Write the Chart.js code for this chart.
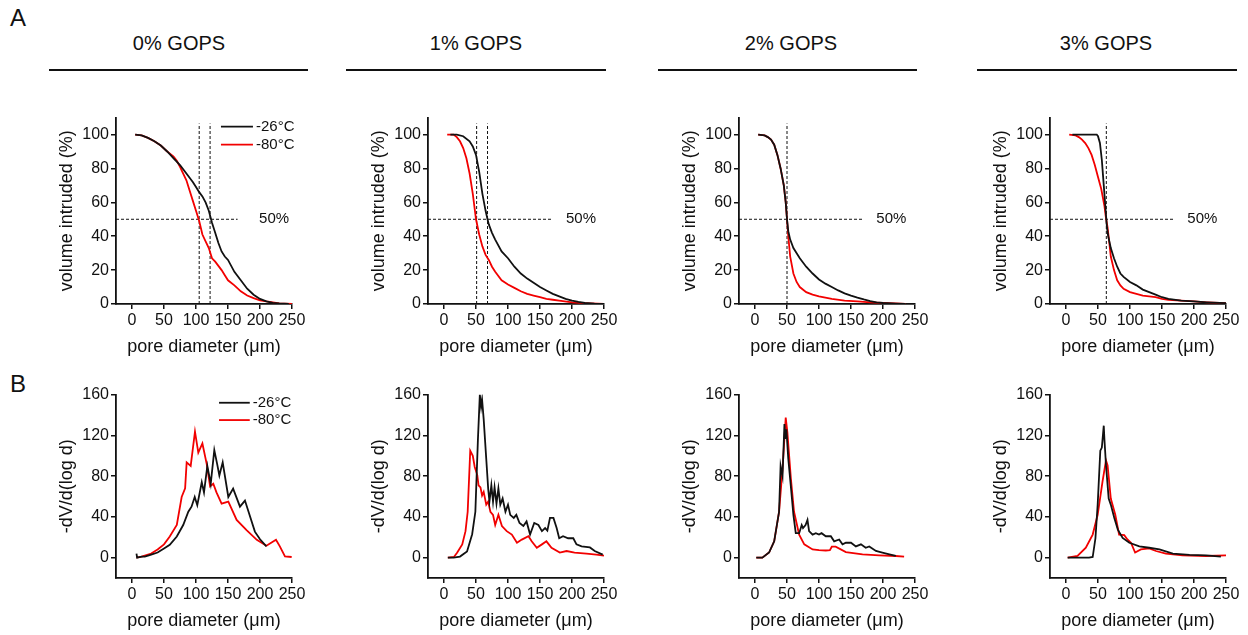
<!DOCTYPE html>
<html>
<head>
<meta charset="utf-8">
<script src="https://cdn.jsdelivr.net/npm/chart.js@4.4.0/dist/chart.umd.min.js"></script>
<style>
  body { margin: 0; background: #fff; width: 1248px; height: 635px; position: relative; overflow: hidden;
         font-family: "Liberation Sans", Arial, sans-serif; color: #111; }
  canvas { position: absolute; }
  .hdr { position: absolute; font-size: 20px; transform: translateX(-50%); white-space: nowrap; }
  .rule { position: absolute; height: 2px; background: #111; }
  .lett { position: absolute; font-size: 24px; }
</style>
</head>
<body>
<div class="lett" style="left:10px;top:4px">A</div>
<div class="lett" style="left:10px;top:370px">B</div>

<div class="hdr" style="left:179px;top:32px">0% GOPS</div>
<div class="hdr" style="left:476px;top:32px">1% GOPS</div>
<div class="hdr" style="left:791px;top:32px">2% GOPS</div>
<div class="hdr" style="left:1106px;top:32px">3% GOPS</div>
<div class="rule" style="left:49px;top:69px;width:259px"></div>
<div class="rule" style="left:346px;top:69px;width:260px"></div>
<div class="rule" style="left:658px;top:69px;width:259px"></div>
<div class="rule" style="left:977px;top:69px;width:260px"></div>

<canvas id="a0" width="256" height="252" style="left:56px;top:106px"></canvas>
<canvas id="a1" width="256" height="252" style="left:368px;top:106px"></canvas>
<canvas id="a2" width="256" height="252" style="left:679px;top:106px"></canvas>
<canvas id="a3" width="256" height="252" style="left:990px;top:106px"></canvas>
<canvas id="b0" width="256" height="249" style="left:56px;top:383px"></canvas>
<canvas id="b1" width="256" height="249" style="left:368px;top:383px"></canvas>
<canvas id="b2" width="256" height="249" style="left:679px;top:383px"></canvas>
<canvas id="b3" width="256" height="249" style="left:990px;top:383px"></canvas>

<script>
// tick labels
const xTicks = [0, 50, 100, 150, 200, 250];
const yTicksA = [0, 20, 40, 60, 80, 100];
const yTicksB = [0, 40, 80, 120, 160];
const seriesNames = ["-26°C", "-80°C"];

// A — volume intruded (%), 0% GOPS
const a0_x26 = [5,15,25,35,45,55,65,75,85,95,100,105,110,115,120,125,130,135,140,145,150,160,170,180,190,200,210,220,230,245];
const a0_y26 = [100,99.5,98,96,93.5,90,86,82,77,72,69,66,63.5,60,55,48,42,36,31,28,26,19,14,9,5.5,3,1.5,0.7,0.3,0];
const a0_x80 = [5,15,25,35,45,55,65,70,75,80,85,90,95,100,105,110,115,120,125,130,140,145,150,160,170,180,190,200,210,220,230,250];
const a0_y80 = [100,99.5,98,96,93.5,90,87,84.5,81,77,73,67,61,55,49,41,37,33,27,25,20,17,14,11,7.5,5,3.5,2.2,1.5,1,0.3,0];

// A — 1% GOPS
const a1_x26 = [10,20,30,40,45,50,55,60,65,68,70,75,80,90,100,110,120,130,140,150,160,170,180,190,200,210,220,235,250];
const a1_y26 = [100,100,99,96,93,88,78,65,55,50,47,42,38,31,27,22,18,15,12.5,10,8,6,4.5,3,2,1.2,0.6,0.2,0];
const a1_x80 = [5,15,20,25,30,35,40,45,50,55,60,65,70,75,80,90,100,110,120,130,140,150,160,170,180,200,220,250];
const a1_y80 = [100,100,98.5,96,92,86,77,65,50,41,34,29,26,22,19,14,11.5,9.5,7.5,6,5,4,3,2.5,2,1,0.5,0];

// A — 2% GOPS
const a2_x26 = [5,15,20,25,30,35,40,45,48,50,52,55,60,70,80,90,100,110,120,130,140,150,160,170,180,190,200,220,235];
const a2_y26 = [100,99.5,98.5,97,94,88,80,70,60,50,43,38,33,27,22,18,14.5,12,10,8,6.3,5,3.8,2.7,1.7,1,0.6,0.2,0];
const a2_x80 = [5,15,20,25,30,35,40,45,48,50,52,55,60,65,70,80,90,100,120,140,160,180,200,220,235];
const a2_y80 = [100,99.5,98.5,97,94,88,80,70,60,50,40,28,18,13,10,7,5.5,4.5,3,2,1.5,1,0.6,0.3,0];

// A — 3% GOPS
const a3_x26 = [10,20,30,40,48,50,53,56,58,60,62,64,66,70,75,80,85,90,100,110,120,130,140,150,160,180,200,220,250];
const a3_y26 = [100,100,100,100,100,99,95,85,75,65,55,45,40,33,27,22,18,16,13,11,8.5,7,5.5,4,3,2,1.5,1,0.5];
const a3_x80 = [5,15,20,25,30,35,40,45,50,55,60,62,65,68,70,75,80,85,90,100,110,120,130,140,150,160,180,200,220,250];
const a3_y80 = [100,99.5,98.5,97,95,92,88,82,75,68,58,52,45,35,28,20,14,11,9,7,6,5,4.5,4,3,2.5,2,1.5,1,0.5];

// d50 markers (pore diameter at 50 %)
const d50_a0 = [105, 122];
const d50_a1 = [51, 68];
const d50_a2 = [50];
const d50_a3 = [63];

// B — -dV/d(log d), 0% GOPS
const b0_x26 = [7,8,15,20,25,30,40,50,59,70,80,88,93,98,102,109,112.5,117.7,123,128.6,133,136.5,141.7,150.5,158,168.7,176.5,192,200,210];
const b0_y26 = [4,0,1,1,2,3,5,9,12.6,20.7,32,45,50,59.5,51.5,74,64,90,72.5,105.5,92,80.6,93.5,59.5,67.7,50,56,25.5,18,11];
const b0_x80 = [7,15,20,30,40,50,59,70,77.6,83,85.4,91.7,98.4,103.6,110,116.7,122,127,132,140,150.5,163.5,179,195,210,225,231,239,249.5];
const b0_y80 = [0,1,2,4,8,13,20.7,32,59.5,68,93.5,90,123.6,103,112,92,70,72.5,64,53,55,37,27,17.5,11.7,17.5,11,1.3,0.6];

// B — 1% GOPS
const b1_x26 = [6,15,25,36,44,49,53,56,58,59.5,62,66,69,71,74,76.6,79,82,85,88,91.6,96,100,103.5,109,113,118,124,129,134.5,141,147.5,153,158,161.5,165.6,171,176,180,186,194,202,207,215,228,235.5,248];
const b1_y26 = [0,0,1,6,23,45,116,160,148,155,136,97,68,55,71,55,69,53,68,52,58,45,52,42,39,42,34,31,35.5,22.6,34,32,26,29,26.5,39,39,29,19,21,19,19,13,11,10,6.5,3];
const b1_x80 = [6,15.5,20.7,28.5,33.6,37,41,45,48,52,54,57,59.5,62,66,69,72.5,76.6,80,85,90.5,98,106,114,121.6,132,137,145,153,160,168,181,191.5,204,222.6,238,250];
const b1_y80 = [0,0.6,5,13,26,45,105,100,89,81,71,69,61,64.5,52,55,45,42,32,42,31,26,22.6,14.5,17.7,21,16,9.7,13,16,9.7,5,6.5,5,4,3,2];

// B — 2% GOPS
const b2_x26 = [2,11.5,22,30,37.6,40,43,46,47,49,52,56,60,63.7,69,73,75,79,82,84.5,90,95,100,104,110.6,118.5,123.7,131.5,136.7,142,150,157.6,165.5,173,178.5,189,199,210,220];
const b2_y26 = [0,0,5,16,45,90,80,131,116.5,126,97,70,42,24,24,32,29,32,37,26,22.6,24,22.6,24,21,21,16,17.8,13,14.6,14.6,11,13,9.7,11,6.5,5,3.2,1.6];
const b2_x80 = [2,11.5,22,30,37.6,43,48,50.6,56,61,69,77,90,100,110.6,117,120,126,142,168,194,220,233];
const b2_y80 = [0,0,5,16,45,87,137.5,123,78,45,22.6,13,8,7.4,7,7.4,10.7,10.7,5.5,3.2,2.3,1.6,1];

// B — 3% GOPS
const b3_x26 = [2.6,36,41.7,46,49.5,53.6,56,59,60,62.5,66.7,70,75.5,81,88.5,99,114.6,130,146,167,193,219,242];
const b3_y26 = [0,0,0.6,19,52,105,108,129.5,116.5,90.6,58,52,39,27.5,19.4,14.6,11,9.7,8,3.9,2.6,2.3,1];
const b3_x80 = [2.6,18,31,41.7,49.5,57,62.5,65,70,77,83,91,96,101.5,108,117,130,140.6,156,182,219,250];
const b3_y80 = [0,1.6,9.7,22.6,42,74.4,95.5,90.6,58,42,22.6,22,17.8,14.6,5,8,9,6.5,3.9,2.3,1.6,2.3];

const FONT = '"Liberation Sans", Arial, sans-serif';
const INK = "#111";
const RED = "#f20000";

const pts = (xs, ys) => xs.map((x, i) => ({ x: x, y: ys[i] }));

// Etiquetas "50%" y leyenda dibujadas sobre el área
const extras = {
  id: "extras",
  afterDatasetsDraw(chart, args, o) {
    const { ctx, scales: { x, y } } = chart;
    ctx.save();
    ctx.font = "15px " + FONT;
    ctx.fillStyle = INK;
    ctx.textBaseline = "middle";
    if (o.label50) {
      ctx.textAlign = "center";
      ctx.fillText("50%", x.getPixelForValue(o.label50), y.getPixelForValue(50));
    }
    if (o.legend) {
      const L = o.legend;
      const curves = chart.data.datasets.filter(d => d.isCurve);
      curves.forEach((d, i) => {
        const py = y.getPixelForValue(L.ys[i]);
        const x0 = x.getPixelForValue(L.x0), x1 = x.getPixelForValue(L.x1);
        ctx.strokeStyle = d.borderColor;
        ctx.lineWidth = 1.8;
        ctx.beginPath(); ctx.moveTo(x0, py); ctx.lineTo(x1, py); ctx.stroke();
        ctx.textAlign = "left";
        ctx.fillText(d.label, x1 + 3, py);
      });
    }
    ctx.restore();
  }
};

function panel(id, x26, y26, x80, y80, cfg) {
  const datasets = [
    { label: seriesNames[0], isCurve: true, data: pts(x26, y26), borderColor: INK, borderWidth: 1.8 },
    { label: seriesNames[1], isCurve: true, data: pts(x80, y80), borderColor: RED, borderWidth: 1.8 }
  ];
  (cfg.d50 || []).forEach(d => {
    datasets.push({ data: [{ x: d, y: 0 }, { x: d, y: 106.5 }], borderColor: INK, borderWidth: 1, borderDash: [3, 2] });
  });
  if (cfg.hEnd) {
    datasets.push({ data: [{ x: -25, y: 50 }, { x: cfg.hEnd, y: 50 }], borderColor: INK, borderWidth: 1, borderDash: [3, 2] });
  }
  datasets.forEach(d => { d.pointRadius = 0; d.tension = 0; d.fill = false; });

  const axisCommon = {
    border: { color: INK, width: 1.8 },
    grid: { drawOnChartArea: false, tickLength: 5, color: INK, lineWidth: 1.5 },
    ticks: { font: { size: 16, family: FONT }, color: INK, padding: 2, maxRotation: 0, autoSkip: false },
    title: { display: true, font: { size: 18, family: FONT }, color: INK, padding: 0 }
  };

  new Chart(document.getElementById(id), {
    type: "line",
    data: { datasets },
    plugins: [extras],
    options: {
      responsive: false,
      animation: false,
      devicePixelRatio: 1,
      layout: { padding: { top: 10, right: 20, left: 0, bottom: 0 } },
      plugins: {
        legend: { display: false },
        tooltip: { enabled: false },
        extras: { label50: cfg.label50, legend: cfg.legend }
      },
      scales: {
        x: Object.assign({}, axisCommon, {
          type: "linear", min: -25, max: 250,
          title: Object.assign({}, axisCommon.title, { text: "pore diameter (\u03bcm)" }),
          afterBuildTicks: s => { s.ticks = xTicks.map(v => ({ value: v })); },
          afterFit: s => { s.height = 54; }
        }),
        y: Object.assign({}, axisCommon, {
          min: cfg.yMin, max: cfg.yMax,
          title: Object.assign({}, axisCommon.title, { text: cfg.yTitle }),
          afterBuildTicks: s => { s.ticks = cfg.yTicks.map(v => ({ value: v })); },
          afterFit: s => { s.width = 60; }
        })
      }
    }
  });
}

const A = { yMin: 0, yMax: 110, yTicks: yTicksA, yTitle: "volume intruded (%)" };
const B = { yMin: -20, yMax: 160, yTicks: yTicksB, yTitle: "-dV/d(log d)" };

panel("a0", a0_x26, a0_y26, a0_x80, a0_y80, Object.assign({}, A, { d50: d50_a0, hEnd: 165, label50: 222, legend: { x0: 139, x1: 189, ys: [104.7, 94] } }));
panel("a1", a1_x26, a1_y26, a1_x80, a1_y80, Object.assign({}, A, { d50: d50_a1, hEnd: 170, label50: 214 }));
panel("a2", a2_x26, a2_y26, a2_x80, a2_y80, Object.assign({}, A, { d50: d50_a2, hEnd: 170, label50: 213 }));
panel("a3", a3_x26, a3_y26, a3_x80, a3_y80, Object.assign({}, A, { d50: d50_a3, hEnd: 170, label50: 213 }));

panel("b0", b0_x26, b0_y26, b0_x80, b0_y80, Object.assign({}, B, { legend: { x0: 136, x1: 184, ys: [152, 135] } }));
panel("b1", b1_x26, b1_y26, b1_x80, b1_y80, B);
panel("b2", b2_x26, b2_y26, b2_x80, b2_y80, B);
panel("b3", b3_x26, b3_y26, b3_x80, b3_y80, B);
</script>
</body>
</html>
